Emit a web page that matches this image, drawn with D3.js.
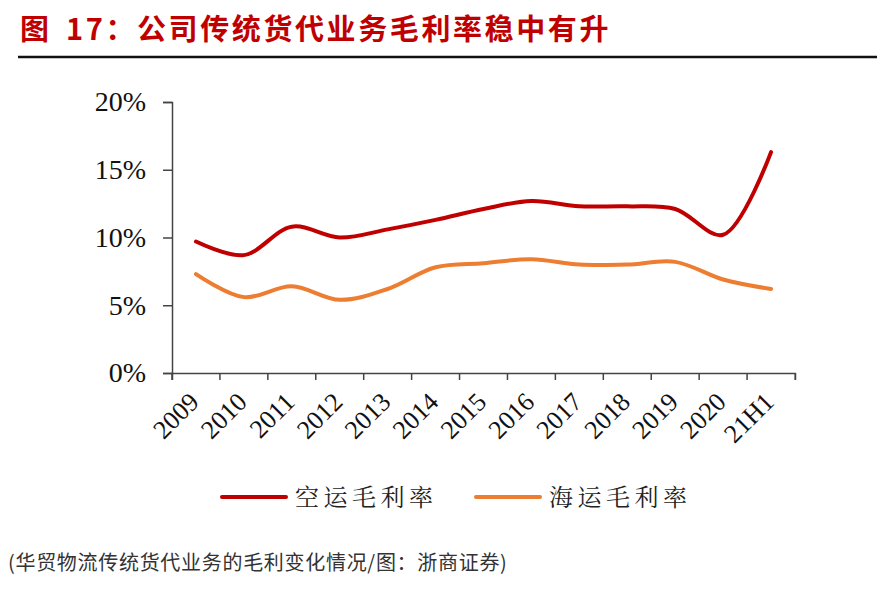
<!DOCTYPE html>
<html><head><meta charset="utf-8">
<script src="https://cdn.jsdelivr.net/npm/d3@7"></script>
<style>body{margin:0;background:#fff;} svg{display:block;}</style>
</head><body>
<script>
const categories = ["2009","2010","2011","2012","2013","2014","2015","2016","2017","2018","2019","2020","21H1"];
const airMargin = [9.7, 8.7, 10.8, 10.0, 10.6, 11.3, 12.1, 12.7, 12.3, 12.3, 12.1, 10.2, 16.3];
const seaMargin = [7.3, 5.6, 6.4, 5.4, 6.2, 7.8, 8.1, 8.4, 8.0, 8.0, 8.2, 6.9, 6.2];
const yTicks = [0, 5, 10, 15, 20];
const seriesNames = ["空运毛利率", "海运毛利率"];
const titleLabel = "图";
const titleText = "17：公司传统货代业务毛利率稳中有升";
const source = "(华贸物流传统货代业务的毛利变化情况/图：浙商证券)";

const W = 877, H = 591;
const svg = d3.select("body").append("svg").attr("width", W).attr("height", H);

const tFont = "'Noto Sans CJK SC', sans-serif";
svg.append("text").attr("x", 20).attr("y", 40)
  .attr("font-family", tFont).attr("font-weight", "bold")
  .attr("font-size", 29).attr("fill", "#c00000").text(titleLabel);
svg.append("text").attr("x", 66).attr("y", 40)
  .attr("font-family", tFont).attr("font-weight", "bold")
  .attr("font-size", 29).attr("letter-spacing", 2.6).attr("fill", "#c00000").text(titleText);
svg.append("line").attr("x1", 18).attr("x2", 877).attr("y1", 57).attr("y2", 57)
  .attr("stroke", "#111").attr("stroke-width", 2.5);

const x = d3.scaleBand().domain(categories).range([172, 795]);
const y = d3.scaleLinear().domain([0, 20]).range([373, 102]);

const axisColor = "#444";
const serif = "'Liberation Serif', 'Times New Roman', serif";
const yAxis = svg.append("g").attr("transform", "translate(172,0)")
  .call(d3.axisLeft(y).tickValues(yTicks).tickSize(9).tickPadding(17).tickFormat(d => d + "%"));
const xAxis = svg.append("g").attr("transform", "translate(0,373)")
  .call(d3.axisBottom(x).tickSize(7).tickSizeOuter(7).tickPadding(4));
xAxis.selectAll(".tick line").attr("x1", -x.bandwidth()/2).attr("x2", -x.bandwidth()/2);
xAxis.append("line").attr("x1", 795).attr("x2", 795).attr("y1", 0).attr("y2", 7).attr("stroke", axisColor);
[yAxis, xAxis].forEach(g => {
  g.select(".domain").attr("stroke", axisColor).attr("stroke-width", 1.5);
  g.selectAll(".tick line").attr("stroke", axisColor).attr("stroke-width", 1.5);
  g.selectAll("text").attr("font-family", serif).attr("fill", "#111");
});
yAxis.selectAll("text").attr("font-size", 28);
xAxis.selectAll("text").attr("font-size", 26)
  .attr("text-anchor", "end").attr("y", 0).attr("dy", "0.35em")
  .attr("transform", "translate(-2,24) rotate(-45)");

const line = d3.line()
  .x((d, i) => x(categories[i]) + x.bandwidth()/2)
  .y(d => y(d))
  .curve(d3.curveCatmullRom.alpha(0.5));

const colors = ["#c00000", "#ed7d31"];
[airMargin, seaMargin].forEach((s, k) => {
  svg.append("path").datum(s).attr("d", line)
    .attr("fill", "none").attr("stroke", colors[k]).attr("stroke-width", 4)
    .attr("stroke-linecap", "round").attr("stroke-linejoin", "round");
});

const legendX = [222, 476];
seriesNames.forEach((n, k) => {
  svg.append("line").attr("x1", legendX[k]).attr("x2", legendX[k] + 64)
    .attr("y1", 497).attr("y2", 497).attr("stroke", colors[k]).attr("stroke-width", 4)
    .attr("stroke-linecap", "round");
  svg.append("text").attr("x", legendX[k] + 73).attr("y", 506)
    .attr("font-family", "'Noto Serif CJK SC', 'Noto Sans CJK SC', serif")
    .attr("font-size", 24).attr("letter-spacing", 4.5).attr("fill", "#222").text(n);
});

svg.append("text").attr("x", 8).attr("y", 570)
  .attr("font-family", "'Noto Sans CJK SC', sans-serif")
  .attr("font-size", 20).attr("letter-spacing", 0.7).attr("fill", "#333").text(source);
</script>
</body></html>
